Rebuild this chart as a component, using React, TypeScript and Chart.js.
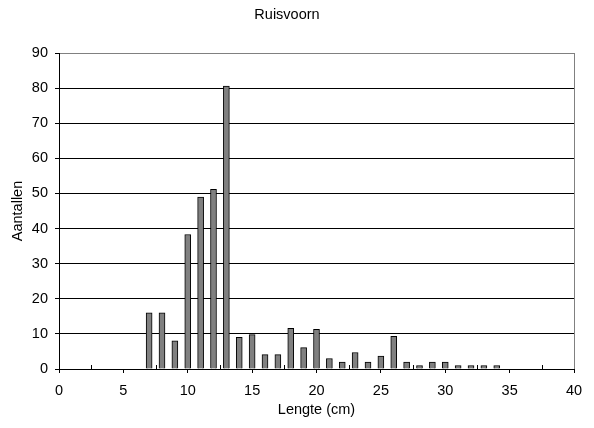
import React, { useEffect, useRef } from "react";
import { Chart, registerables } from "chart.js";

Chart.register(...registerables);

const lengths = [7, 8, 9, 10, 11, 12, 13, 14, 15, 16, 17, 18, 19, 20, 21, 22, 23, 24, 25, 26, 27, 28, 29, 30, 31, 32, 33, 34];
const counts = [16, 16, 8, 38.3, 49, 51.2, 80.6, 9, 9.8, 4.1, 4.1, 11.6, 6.1, 11.3, 3, 2, 4.7, 2, 3.7, 9.3, 2, 1, 2, 2, 1, 1, 1, 1];
const minorTicks = [2.5, 7.5, 12.5, 17.5, 22.5, 27.5, 32.5, 37.5];

const FONT = "'Liberation Sans', Arial, sans-serif";
const FS = 14.5;

export default function App() {
  const ref = useRef<HTMLCanvasElement | null>(null);
  useEffect(() => {
    if (!ref.current) return;
    const minorPlugin = {
      id: "minorTicks",
      afterDraw(chart: any) {
        const x = chart.scales.x;
        const ctx = chart.ctx;
        const bottom = chart.chartArea.bottom;
        ctx.save();
        ctx.strokeStyle = "#000";
        ctx.lineWidth = 1;
        ctx.beginPath();
        for (const v of minorTicks) {
          const px = Math.round(x.getPixelForValue(v)) + 0.5;
          ctx.moveTo(px, bottom);
          ctx.lineTo(px, bottom - 4);
        }
        ctx.stroke();
        ctx.restore();
      },
    };
    const chart = new Chart(ref.current, {
      type: "bar",
      data: {
        datasets: [
          {
            data: lengths.map((l, i) => ({ x: l, y: counts[i] })),
            backgroundColor: "#808080",
            borderColor: "#000",
            borderWidth: 1,
            barThickness: 6,
          },
        ],
      },
      options: {
        responsive: false,
        animation: false,
        layout: { padding: { left: 0, right: 20, top: 0, bottom: 0 } },
        plugins: {
          legend: { display: false },
          tooltip: { enabled: false },
          title: {
            display: true,
            text: "Ruisvoorn",
            color: "#000",
            font: { family: FONT, size: FS, weight: "normal" },
            padding: { top: 6.3, bottom: 29.3 },
          },
        },
        scales: {
          x: {
            type: "linear",
            min: 0,
            max: 40,
            offset: false,
            ticks: { stepSize: 5, color: "#000", font: { family: FONT, size: FS }, padding: 9, maxRotation: 0 },
            grid: {
              offset: false,
              drawOnChartArea: true,
              drawTicks: true,
              tickLength: 4,
              color: (c: any) => (c.tick && c.tick.value === 40 ? "#808080" : "rgba(0,0,0,0)"),
              tickColor: "#000",
            },
            border: { color: "#000", width: 1 },
            title: {
              display: true,
              text: "Lengte (cm)",
              color: "#000",
              font: { family: FONT, size: FS },
              padding: { top: 0, bottom: 9.3 },
            },
            afterFit(scale: any) {
              scale.height = 59;
            },
          },
          y: {
            min: 0,
            max: 90,
            ticks: { stepSize: 10, color: "#000", font: { family: FONT, size: FS }, padding: 7 },
            grid: {
              tickLength: 4,
              color: (c: any) => (c.tick && c.tick.value === 90 ? "#808080" : "#000"),
              tickColor: "#000",
            },
            border: { color: "#000", width: 1 },
            title: {
              display: true,
              text: "Aantallen",
              color: "#000",
              font: { family: FONT, size: FS },
              padding: { top: 9.3, bottom: 0 },
            },
            afterFit(scale: any) {
              scale.width = 59;
            },
          },
        },
      },
      plugins: [minorPlugin],
    } as any);
    return () => chart.destroy();
  }, []);
  return (
    <div style={{ position: "fixed", left: 0, top: 0, width: 594, height: 428, background: "#fff" }}>
      <canvas ref={ref} width={594} height={428} style={{ display: "block" }} />
    </div>
  );
}
